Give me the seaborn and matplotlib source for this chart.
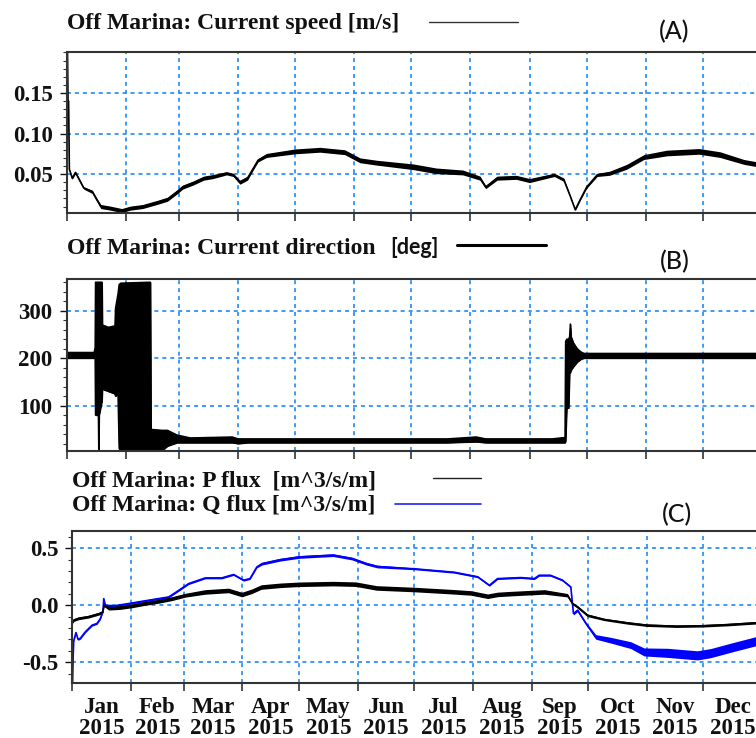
import numpy as np
import pandas as pd
import matplotlib
matplotlib.use("Agg")
import matplotlib.pyplot as plt
import matplotlib.dates as mdates
from matplotlib.ticker import FixedLocator, MultipleLocator, NullFormatter, FuncFormatter
from matplotlib.lines import Line2D
import seaborn as sns

# ---------------- data (x = day of year 2015, 0 = 1 Jan) ----------------
speed_day = [0, 0.5, 0.8, 1.1, 1.5, 3, 4.7, 9, 13.6, 16, 18, 23, 29, 33.5, 40,
             47.5, 53, 58, 61, 66.5, 72, 77, 84, 87.5, 91, 95, 98, 100.5, 105, 120,
             133, 146, 154, 163, 182, 194, 208, 217, 220, 226, 236, 243, 256, 261,
             264.5, 267, 269.5, 273, 278.5, 285, 294, 303, 315, 332, 343, 355.5, 365]
speed_ms = [0.205, 0.205, 0.140, 0.140, 0.056, 0.045, 0.052, 0.033, 0.028, 0.018,
            0.010, 0.008, 0.005, 0.008, 0.010, 0.015, 0.019, 0.028, 0.034, 0.039,
            0.045, 0.047, 0.051, 0.049, 0.040, 0.045, 0.057, 0.067, 0.073, 0.078,
            0.080, 0.077, 0.067, 0.064, 0.059, 0.054, 0.052, 0.045, 0.034, 0.045,
            0.046, 0.042, 0.049, 0.043, 0.022, 0.006, 0.018, 0.034, 0.049, 0.051,
            0.059, 0.071, 0.076, 0.078, 0.074, 0.065, 0.061]
speed_spread = [0.0005, 0.0005, 0.0005, 0.0005, 0.0005, 0.0015, 0.0015, 0.0015, 0.002, 0.002,
                0.0025, 0.0025, 0.0025, 0.0025, 0.0025, 0.0025, 0.0025, 0.0025, 0.0025, 0.0025,
                0.0025, 0.0025, 0.002, 0.002, 0.0025, 0.0025, 0.002, 0.002, 0.0025, 0.003,
                0.003, 0.003, 0.003, 0.003, 0.0035, 0.0035, 0.003, 0.0025, 0.002, 0.0025,
                0.0025, 0.0025, 0.002, 0.002, 0.001, 0.001, 0.001, 0.0015, 0.002, 0.0025,
                0.003, 0.003, 0.0035, 0.0035, 0.0035, 0.003, 0.003]

dir_day = [0, 14.5, 15.0, 15.2, 16.7, 16.9, 17.1, 18.6, 18.8, 22, 25.4, 25.7, 27.0,
           27.6, 28.5, 44, 44.3, 50, 53, 58, 65, 87, 90, 95, 140, 200, 215, 220, 255,
           261.6, 261.9, 262.5, 263.5, 264.0, 264.4, 264.8, 266, 268, 270, 271.5, 365]
dir_low = [200, 200, 206, 80, 80, 5, 80, 110, 135, 130, 125, 120, 125, 10, 5,
           5, 5, 5, 15, 22, 22, 22, 20, 22, 22, 22, 24, 22, 22, 22,
           25, 95, 95, 170, 170, 175, 182, 192, 198, 200, 200]
dir_high = [212, 212, 222, 360, 360, 360, 360, 360, 270, 265, 268, 305, 335, 355, 358,
            360, 50, 48, 48, 38, 32, 34, 30, 30, 30, 30, 34, 30, 30, 33,
            235, 240, 240, 245, 272, 245, 232, 220, 213, 210, 210]

p_day = [0.3, 0.7, 3.3, 8.6, 13.9, 16.0, 16.8, 19.2, 25, 31.5, 38, 45.6, 52.7, 59.7,
         70.3, 82.6, 89.7, 95, 100, 110, 120, 138, 150, 161, 181, 200, 211, 219.8,
         225, 232, 249.8, 262, 264.7, 267.4, 272.6, 281.5, 293.8, 304, 320, 333.8,
         346.7, 360.8, 365]
p_flux = [-0.15, -0.13, -0.115, -0.10, -0.075, -0.06, 0.0, -0.025, -0.02, -0.005,
          0.015, 0.035, 0.058, 0.088, 0.117, 0.13, 0.094, 0.123, 0.16, 0.175,
          0.184, 0.19, 0.185, 0.152, 0.138, 0.12, 0.108, 0.079, 0.095, 0.102,
          0.117, 0.088, 0.015, -0.015, -0.088, -0.125, -0.155, -0.175, -0.184, -0.18,
          -0.17, -0.155, -0.15]
p_spread = [0.012] * 7 + [0.017] * 7 + [0.02] * 17 + [0.015, 0.01, 0.012, 0.012, 0.01] + [0.011] * 7

q_day = [0, 0.4, 0.7, 1.9, 3.0, 4.2, 6.8, 10.4, 13.0, 14.8, 16.2, 16.6, 17.4, 22,
         29.8, 40.3, 51, 56.2, 61.5, 70.3, 79, 85.3, 90.6, 94, 97.6, 100.3, 110,
         120, 138, 148, 155.6, 161.4, 181, 202, 214.5, 220.7, 225, 237.4, 244.5,
         247, 253, 259.4, 263.8, 265.2, 267.4, 271.8, 277, 285, 295.5, 302.6, 315,
         330.8, 337.9, 350, 360.8, 365]
q_flux = [-0.75, -0.45, -0.31, -0.24, -0.30, -0.29, -0.234, -0.175, -0.16, -0.117,
          -0.05, 0.058, 0.0, -0.005, 0.015, 0.044, 0.073, 0.13, 0.19, 0.24,
          0.24, 0.27, 0.22, 0.234, 0.336, 0.365, 0.40, 0.424, 0.44, 0.41,
          0.365, 0.34, 0.32, 0.29, 0.25, 0.175, 0.234, 0.243, 0.234, 0.263,
          0.263, 0.22, 0.16, -0.073, -0.044, -0.16, -0.278, -0.307, -0.35, -0.41,
          -0.418, -0.44, -0.42, -0.366, -0.32, -0.30]
q_spread = ([0.008] * 15 + [0.008] * 10 + [0.012] * 7 + [0.008] * 11 + [0.012] * 3
            + [0.02, 0.025, 0.03, 0.035, 0.04, 0.04, 0.04, 0.04, 0.04, 0.04])

month_labels = ["Jan", "Feb", "Mar", "Apr", "May", "Jun",
                "Jul", "Aug", "Sep", "Oct", "Nov", "Dec"]
year_label = "2015"

# ---------------- styling ----------------
sns.set_style("white")
plt.rcParams["font.family"] = ["Liberation Serif", "DejaVu Serif"]
plt.rcParams["font.weight"] = "bold"
plt.rcParams["axes.unicode_minus"] = False

GRID = "#2f93f5"
SERIF = ["Liberation Serif", "DejaVu Serif"]
SANS = ["Lato", "DejaVu Sans"]
TICK_SIZE = 16.5
W, H = 756, 738
start = pd.Timestamp("2015-01-01")
end = pd.Timestamp("2016-01-01")


def to_dates(days):
    return start + pd.to_timedelta(np.asarray(days, dtype=float), unit="D")


fig = plt.figure(figsize=(W / 100, H / 100), dpi=100)


def axes_px(left, top, right, bottom):
    return fig.add_axes([left / W, 1 - bottom / H, (right - left) / W, (bottom - top) / H])


def style_axis(ax, ylim, yticks, minor, fmt):
    ax.set_xlim(start, end)
    ax.set_ylim(*ylim)
    ax.yaxis.set_major_locator(FixedLocator(yticks))
    ax.yaxis.set_minor_locator(MultipleLocator(minor))
    ax.yaxis.set_major_formatter(FuncFormatter(lambda v, p: fmt % v))
    ax.xaxis.set_major_locator(mdates.MonthLocator())
    ax.xaxis.set_major_formatter(NullFormatter())
    ax.grid(True, which="major", color=GRID, linestyle=(0, (2.2, 2.2)), linewidth=1.3)
    ax.tick_params(axis="y", which="major", direction="out", length=5, width=1.0,
                   pad=5, labelsize=TICK_SIZE, left=True, colors="#111111")
    ax.tick_params(axis="y", which="minor", direction="out", length=3, width=0.8,
                   left=True, colors="#333333")
    ax.tick_params(axis="x", which="major", direction="out", length=6, width=1.2,
                   bottom=True, colors="#333333")
    for side, sp in ax.spines.items():
        sp.set_color("#333333")
        sp.set_linewidth(1.5)
    ax.spines["right"].set_visible(False)
    ax.set_xlabel("")
    ax.set_ylabel("")
    for lab in ax.get_yticklabels():
        lab.set_fontweight("bold")
        lab.set_family(SERIF)


# ---------------- (A) current speed ----------------
axA = axes_px(66.5, 52, 762, 213)
dA = to_dates(speed_day)
sA = np.asarray(speed_ms)
eA = np.asarray(speed_spread)
axA.fill_between(dA, sA - eA, sA + eA, color="black", linewidth=0)
sns.lineplot(x=dA, y=sA, ax=axA, color="black", linewidth=1.2, sort=False)
style_axis(axA, (0.002, 0.2006), [0.05, 0.10, 0.15], 0.01, "%.2f")

# ---------------- (B) current direction ----------------
axB = axes_px(66.5, 279.3, 762, 450.7)
dB = to_dates(dir_day)
axB.fill_between(dB, dir_low, dir_high, color="black", edgecolor="black", linewidth=0.8)
sns.lineplot(x=dB, y=dir_low, ax=axB, color="black", linewidth=1.0, sort=False)
sns.lineplot(x=dB, y=dir_high, ax=axB, color="black", linewidth=1.0, sort=False)
style_axis(axB, (5, 366), [100, 200, 300], 20, "%d")

# ---------------- (C) P and Q fluxes ----------------
axC = axes_px(72.4, 531, 762, 682.7)
dQ = to_dates(q_day)
q = np.asarray(q_flux)
eq = np.asarray(q_spread)
axC.fill_between(dQ, q - eq, q + eq, color="#0000ff", linewidth=0)
sns.lineplot(x=dQ, y=q, ax=axC, color="#0000ff", linewidth=1.2, sort=False)
dP = to_dates(p_day)
p = np.asarray(p_flux)
ep = np.asarray(p_spread)
axC.fill_between(dP, p - ep, p + ep, color="black", linewidth=0)
sns.lineplot(x=dP, y=p, ax=axC, color="black", linewidth=1.2, sort=False)
style_axis(axC, (-0.68, 0.652), [-0.5, 0.0, 0.5], 0.1, "%.1f")

# month labels centred between month boundaries
month_starts = pd.date_range(start, end, freq="MS")
centres = month_starts[:-1] + (month_starts[1:] - month_starts[:-1]) / 2
axC.xaxis.set_minor_locator(FixedLocator(mdates.date2num(centres)))
axC.xaxis.set_minor_formatter(FuncFormatter(
    lambda v, pos: f"{month_labels[pos]}\n{year_label}" if pos is not None and pos < 12 else ""))
axC.tick_params(axis="x", which="minor", length=0, pad=10, labelsize=TICK_SIZE, colors="#111111")
for lab in axC.get_xticklabels(minor=True):
    lab.set_linespacing(1.0)
    lab.set_fontweight("bold")

# ---------------- titles, legend keys and panel letters ----------------
def fig_text(x, y, s, **kw):
    fig.text(x / W, 1 - y / H, s, **kw)


def key_line(x0, x1, y, **kw):
    fig.add_artist(Line2D([x0 / W, x1 / W], [1 - y / H, 1 - y / H],
                          transform=fig.transFigure, **kw))


title_kw = dict(family=SERIF, weight="bold", fontsize=17, color="#111111",
                ha="left", va="baseline")
letter_kw = dict(family=SANS, weight="medium", fontsize=18, color="#111111",
                 ha="left", va="center")

fig_text(67, 29.5, "Off Marina: Current speed [m/s]", **title_kw)
key_line(429, 518, 22, color="#333333", linewidth=1.0)
fig_text(659, 32, "(A)", **letter_kw)

fig_text(67, 253.5, "Off Marina: Current direction", **title_kw)
fig_text(390, 254, "[deg]", family=SANS, weight="bold", fontsize=15.5,
         color="#111111", ha="left", va="baseline")
key_line(457, 546, 245, color="black", linewidth=2.2)
fig_text(660, 262, "(B)", **letter_kw)

fig_text(72, 487, "Off Marina: P flux  [m^3/s/m]", **title_kw)
fig_text(72, 510, "Off Marina: Q flux [m^3/s/m]", **title_kw)
key_line(433, 481, 478, color="#222222", linewidth=1.0)
key_line(395, 481, 504, color="#3030ff", linewidth=1.3)
fig_text(662, 515, "(C)", **letter_kw)

fig.savefig("out.png", dpi=100)
